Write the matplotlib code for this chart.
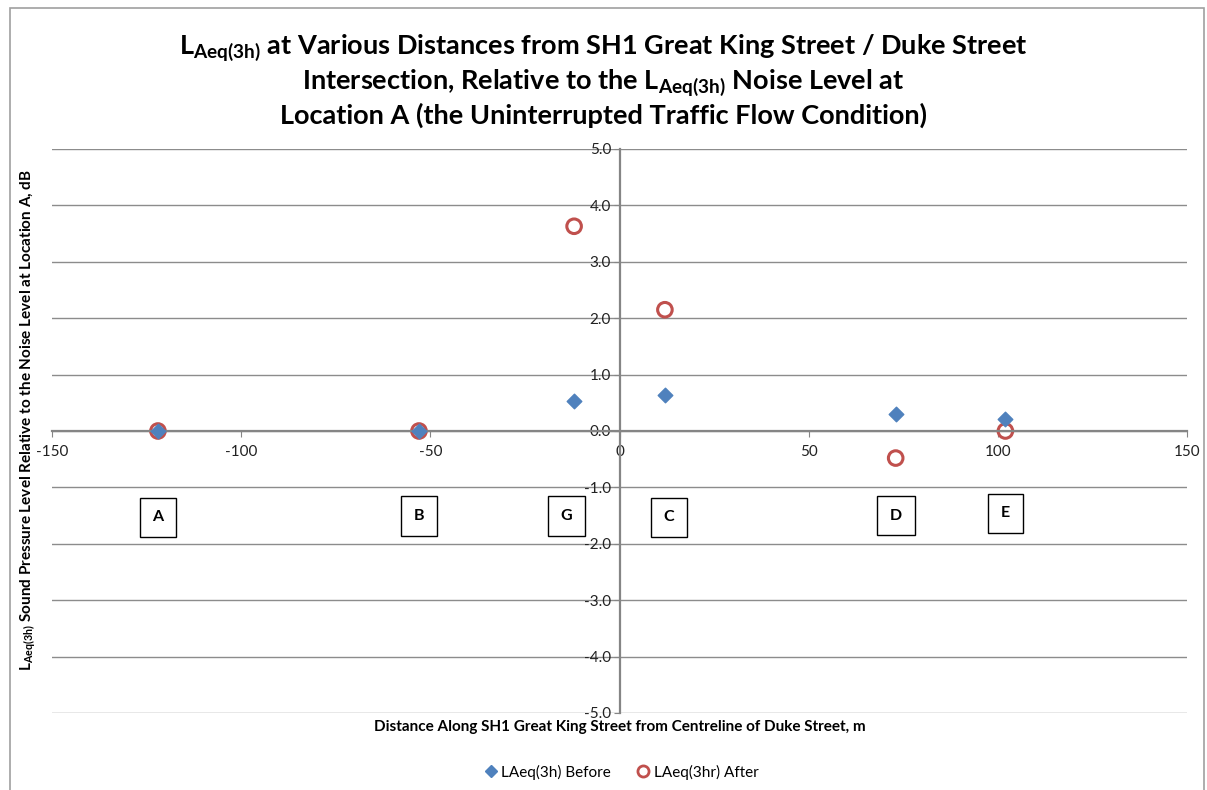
import matplotlib
matplotlib.use("Agg")
import matplotlib.pyplot as plt
from matplotlib.patches import Rectangle
from matplotlib.lines import Line2D

plt.rcParams['font.family'] = ['Lato', 'DejaVu Sans']
plt.rcParams['mathtext.fontset'] = 'custom'
plt.rcParams['mathtext.rm'] = 'Lato'
plt.rcParams['mathtext.bf'] = 'Lato:bold'
plt.rcParams['mathtext.it'] = 'Lato:italic'

# Data
locations = ['A', 'B', 'G', 'C', 'D', 'E']
distance = [-122, -53, -12, 12, 73, 102]
before = [0.0, 0.0, 0.53, 0.63, 0.30, 0.21]
after = [0.0, 0.0, 3.63, 2.15, -0.48, 0.0]
label_x = [-122, -53, -14, 13, 73, 102]
label_y = [-1.53, -1.51, -1.51, -1.53, -1.50, -1.46]

xticks = [-150, -100, -50, 0, 50, 100, 150]
yticks = [-5, -4, -3, -2, -1, 0, 1, 2, 3, 4, 5]

fig = plt.figure(figsize=(12.07, 7.90), dpi=100)
fig.patches.append(Rectangle((10/1207, -0.01), 1194/1207, 1 - 8/790 + 0.01,
                             transform=fig.transFigure, fill=False,
                             edgecolor='#a0a0a0', linewidth=1.2))

ax = fig.add_axes([52/1207, 1 - 713/790, 1135/1207, (713 - 149)/790])
ax.set_xlim(-150, 150)
ax.set_ylim(-5, 5)

for yv in yticks:
    ax.axhline(yv, color='#8c8c8c', linewidth=1.0, zorder=0)

ax.spines['left'].set_position(('data', 0))
ax.spines['bottom'].set_position(('data', 0))
ax.spines['right'].set_visible(False)
ax.spines['top'].set_visible(False)
for s in ('left', 'bottom'):
    ax.spines[s].set_color('#858585')
    ax.spines[s].set_linewidth(1.6)

ax.set_xticks(xticks)
ax.set_yticks(yticks)
ax.set_xticklabels([str(v) for v in xticks])
ax.set_yticklabels([f"{v:.1f}" for v in yticks])
ax.tick_params(axis='both', labelsize=11, colors='#858585', labelcolor='#222222',
               length=4, direction='out')
ax.tick_params(axis='x', pad=6)
ax.tick_params(axis='y', pad=2)

ax.scatter(distance, before, marker='D', s=55, color='#4F81BD', zorder=3,
           label='LAeq(3h) Before')
ax.scatter(distance, after, marker='o', s=110, facecolors='none',
           edgecolors='#C0504D', linewidths=2.2, zorder=2,
           label='LAeq(3hr) After')

for lab, lx, ly in zip(locations, label_x, label_y):
    ax.text(lx, ly, lab, ha='center', va='center', fontsize=11.5, fontweight='bold',
            bbox=dict(boxstyle='square,pad=0.8', facecolor='white',
                      edgecolor='black', linewidth=1.0), zorder=4)

title = (r"L$_{\mathbf{Aeq(3h)}}$ at Various Distances from SH1 Great King Street / Duke Street" "\n"
         r"Intersection, Relative to the L$_{\mathbf{Aeq(3h)}}$ Noise Level at" "\n"
         r"Location A (the Uninterrupted Traffic Flow Condition)")
fig.text(0.5, 1 - 80/790, title, ha='center', va='center', fontsize=19.5,
         fontweight='bold', linespacing=1.2)

fig.text(28/1207, 1 - 420/790,
         r"L$_{\mathbf{Aeq(3h)}}$ Sound Pressure Level Relative to the Noise Level at Location A, dB",
         rotation=90, ha='center', va='center', fontsize=11, fontweight='bold')
fig.text(620/1207, 1 - 727/790,
         "Distance Along SH1 Great King Street from Centreline of Duke Street, m",
         ha='center', va='center', fontsize=11, fontweight='bold')

handles = [Line2D([], [], marker='D', linestyle='none', color='#4F81BD', markersize=6),
           Line2D([], [], marker='o', linestyle='none', markerfacecolor='none',
                  markeredgecolor='#C0504D', markeredgewidth=2, markersize=8)]
fig.legend(handles, ['LAeq(3h) Before', 'LAeq(3hr) After'], loc='center',
           bbox_to_anchor=(620/1207, 1 - 772/790), ncol=2, frameon=False,
           fontsize=11, handletextpad=0.1, columnspacing=1.5, handlelength=1.2)

fig.savefig('out.png', dpi=100)
